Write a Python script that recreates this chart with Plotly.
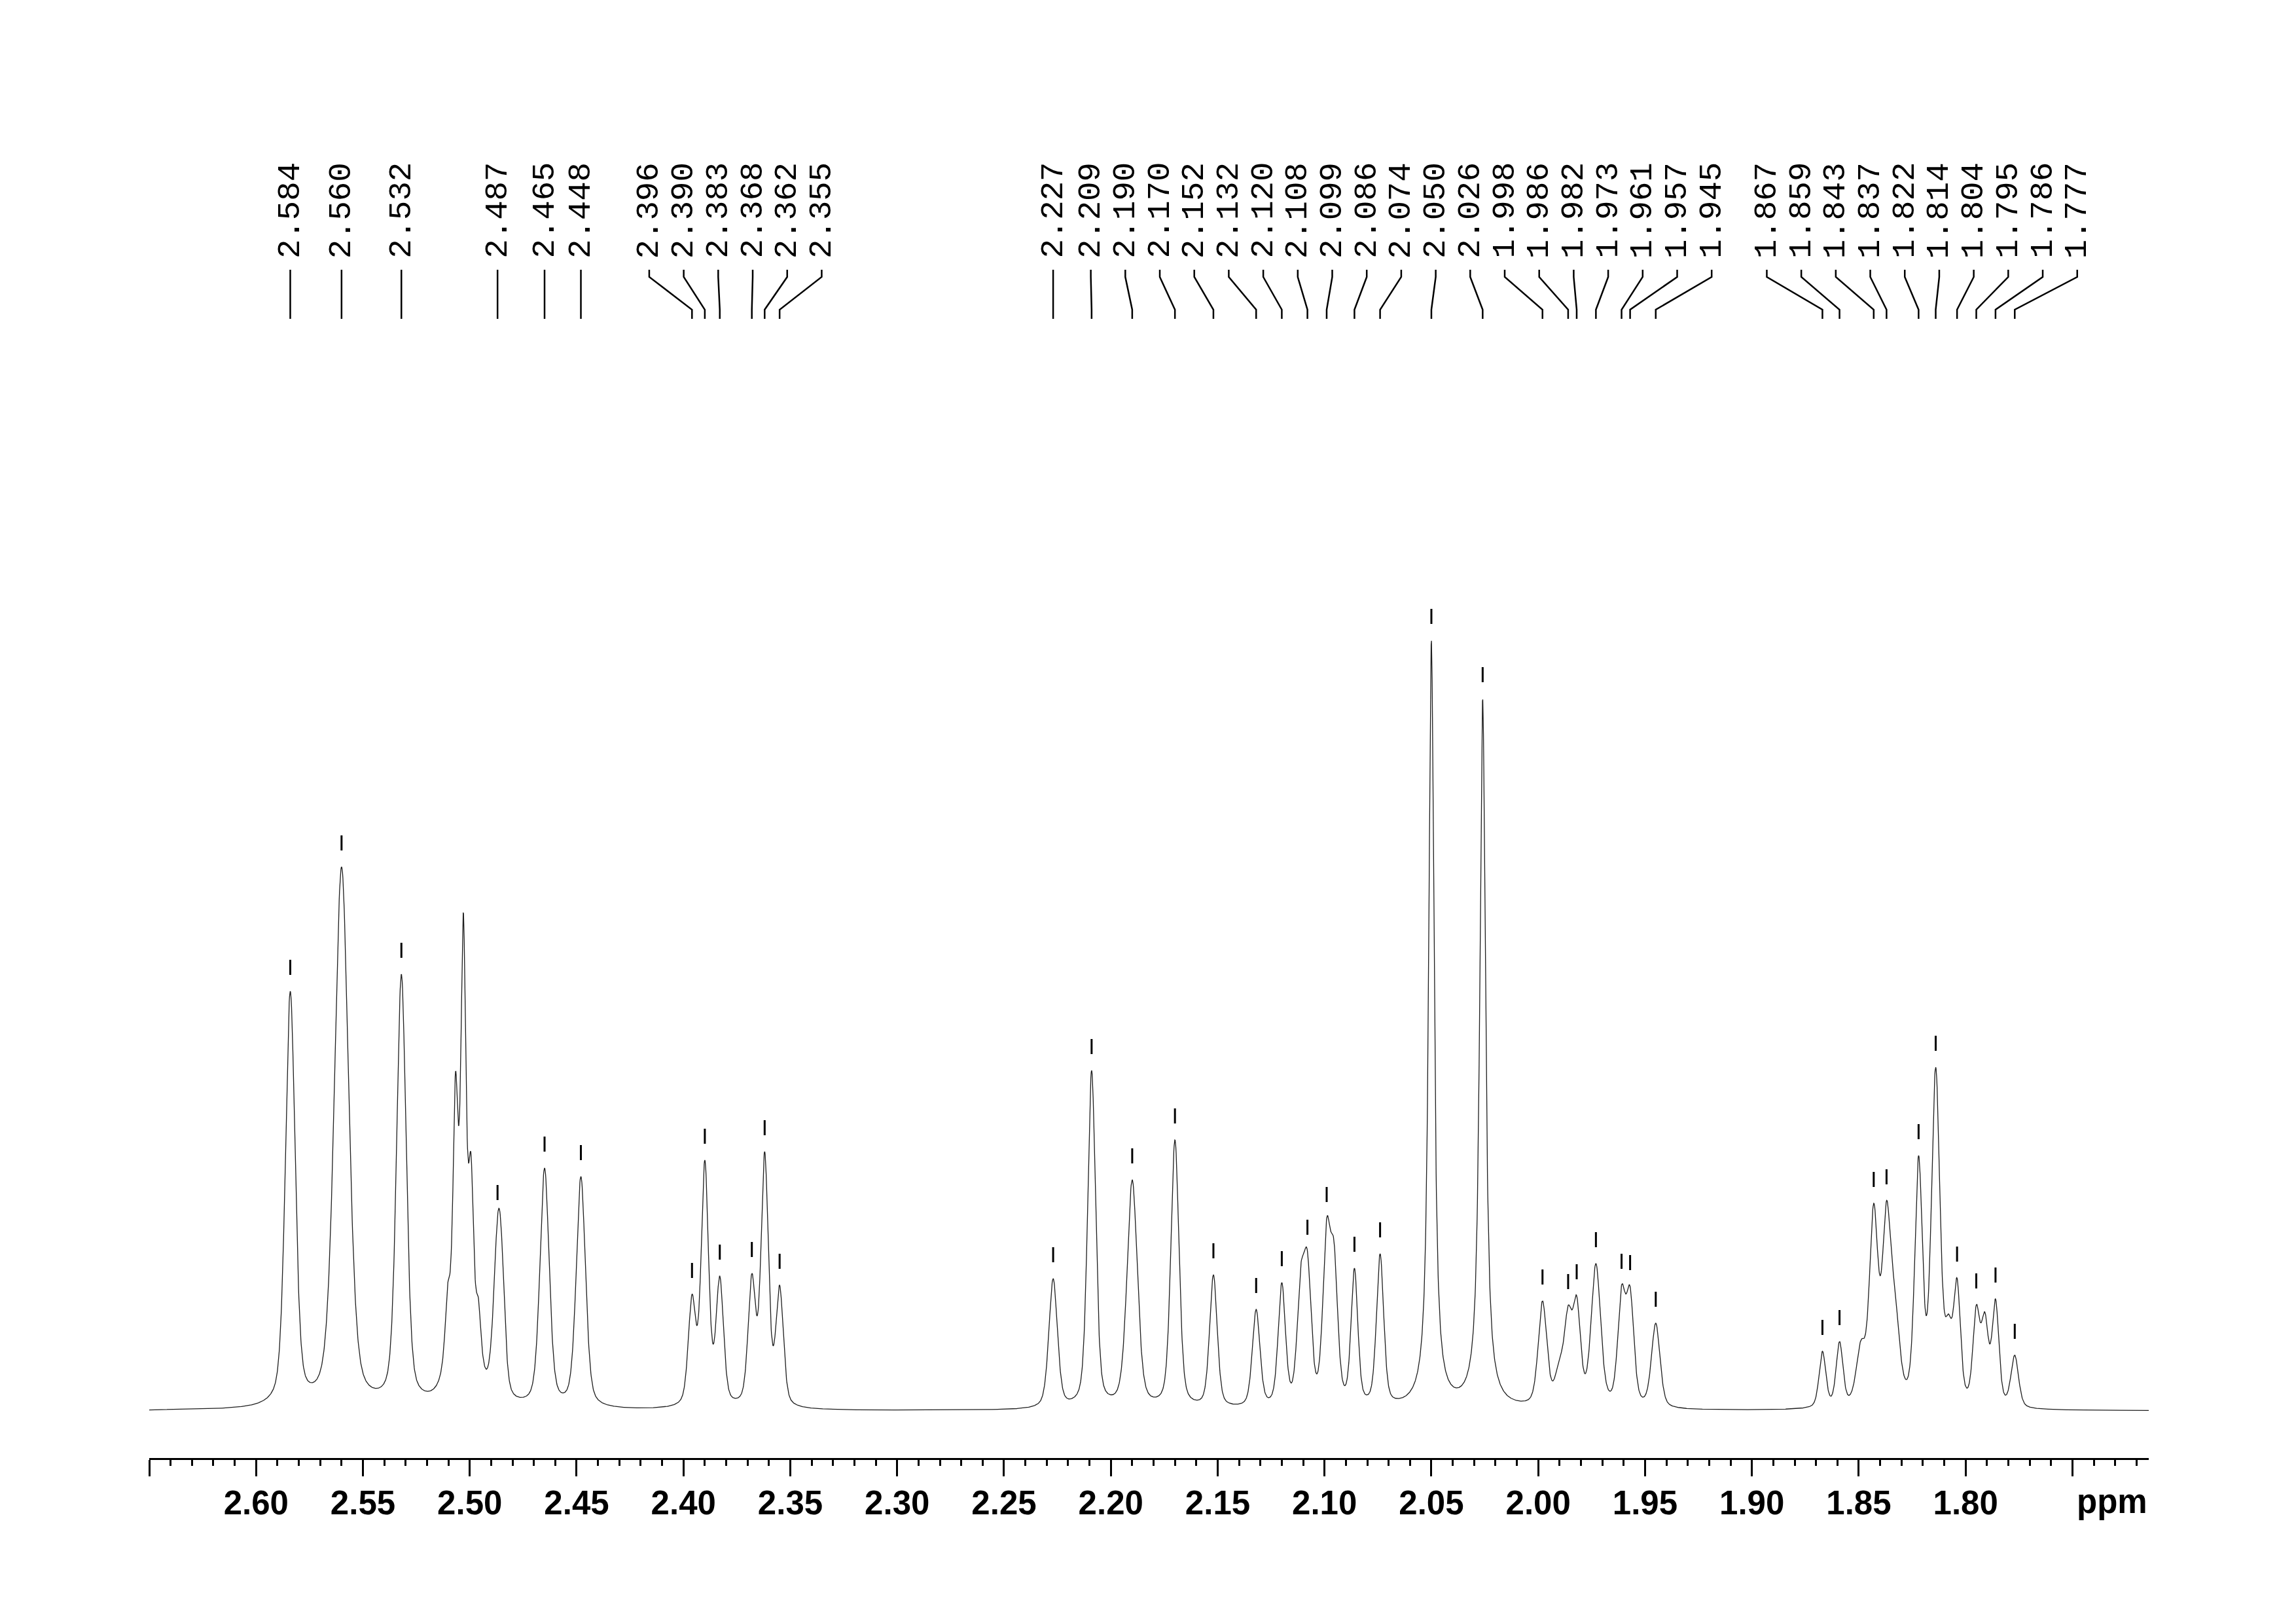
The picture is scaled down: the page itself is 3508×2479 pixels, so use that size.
import numpy as np
import plotly.graph_objects as go

# ---------------- data ----------------
# labelled peaks (ppm), apparent heights above baseline (px units) and line widths (FWHM, ppm)
peak_ppm = [2.584, 2.560, 2.532, 2.487, 2.465, 2.448,
            2.396, 2.390, 2.383, 2.368, 2.362, 2.355,
            2.227, 2.209, 2.190, 2.170, 2.152, 2.132, 2.120, 2.108, 2.099, 2.086, 2.074,
            2.050, 2.026,
            1.998, 1.986, 1.982, 1.973, 1.961, 1.957, 1.945,
            1.867, 1.859, 1.843, 1.837, 1.822, 1.814, 1.804, 1.795, 1.786, 1.777]
peak_height = [641, 831, 667, 297, 371, 358,
               178, 383, 206, 210, 396, 192,
               202, 520, 353, 414, 208, 155, 196, 244, 294, 218, 240,
               1177, 1088,
               168, 161, 176, 225, 192, 190, 134,
               91, 106, 317, 321, 390, 525, 203, 162, 171, 85]
peak_width = [0.0054, 0.0078, 0.0053, 0.0047, 0.0051, 0.0051,
              0.0041, 0.0041, 0.0041, 0.0041, 0.0041, 0.0041,
              0.0047, 0.0044, 0.0057, 0.0045, 0.0042, 0.0042, 0.0040, 0.0042, 0.0042, 0.0037, 0.0040,
              0.0030, 0.0032,
              0.0047, 0.0042, 0.0042, 0.0052, 0.0042, 0.0042, 0.0047,
              0.0037, 0.0037, 0.0047, 0.0047, 0.0042, 0.0047, 0.0037, 0.0037, 0.0037, 0.0042]

# unlabelled lines / shoulders (solvent quintet etc.)
extra_ppm = [2.5104, 2.5067, 2.5030, 2.4994, 2.4959, 2.4852, 2.1112, 2.0955,
             1.990, 1.849, 1.833, 1.808, 1.791]
extra_height = [192, 517, 762, 392, 171, 274, 220, 257,
                80, 108, 184, 148, 151]
extra_width = [0.0030, 0.0030, 0.0030, 0.0030, 0.0030, 0.0040, 0.0040, 0.0040,
               0.0050, 0.0050, 0.0050, 0.0040, 0.0040]

axis_ticks = [2.65, 2.60, 2.55, 2.50, 2.45, 2.40, 2.35, 2.30, 2.25, 2.20, 2.15,
              2.10, 2.05, 2.00, 1.95, 1.90, 1.85, 1.80, 1.75]
axis_tick_text = ["", "2.60", "2.55", "2.50", "2.45", "2.40", "2.35", "2.30", "2.25",
                  "2.20", "2.15", "2.10", "2.05", "2.00", "1.95", "1.90", "1.85",
                  "1.80", ""]
x_left, x_right = 2.65, 1.7143


# ---------------- line-shape model ----------------
def shape(x, c, w):
    eta = 0.9 if w <= 0.0033 else 0.4      # sharp singlets are Lorentzian, multiplet lines rounder
    d = (x - c) / (w / 2.0)
    lor = 1.0 / (1.0 + d * d)
    gau = np.exp(-np.log(2) * d * d)
    return eta * lor + (1 - eta) * gau


centers = np.array(peak_ppm + extra_ppm)
targets = np.array(peak_height + extra_height, dtype=float)
widths = np.array(peak_width + extra_width)
M = np.array([[shape(ci, cj, wj) for cj, wj in zip(centers, widths)] for ci in centers])
amp = targets.copy()
for _ in range(400):
    for i in range(len(amp)):
        rest = M[i] @ amp - M[i, i] * amp[i]
        amp[i] = max(0.0, (targets[i] - rest) / M[i, i])

grid = np.linspace(x_left, x_right, 6000)
spec = np.zeros_like(grid)
for a, c, w in zip(amp, centers, widths):
    spec += a * shape(grid, c, w)


def curve_at(x):
    return float(sum(a * shape(x, c, w) for a, c, w in zip(amp, centers, widths)))


# ---------------- label placement (de-overlapping) ----------------
PX_PER_PPM = 163.25 / 0.05
d = 52.7 / PX_PER_PPM
clusters = [[p] for p in peak_ppm]


def positions(cl):
    c = float(np.mean(cl))
    n = len(cl)
    return [c + ((n - 1) / 2.0 - k) * d for k in range(n)]


changed = True
while changed:
    changed = False
    for i in range(len(clusters) - 1):
        a = positions(clusters[i])
        b = positions(clusters[i + 1])
        if a[-1] - b[0] < d - 1e-9:
            clusters[i] = clusters[i] + clusters[i + 1]
            del clusters[i + 1]
            changed = True
            break
label_pos = []
for cl in clusters:
    label_pos += positions(cl)

# vertical layout in "pixel" data units (1 unit = 1 px, baseline at 0)
Y_LEAD_TOP, Y_LEAD_B1, Y_LEAD_B2, Y_LEAD_BOT = 1743, 1732, 1682, 1668
Y_TEXT_BOTTOM = 1758

lx, ly = [], []
for p, lp in zip(peak_ppm, label_pos):
    lx += [lp, lp, p, p, None]
    ly += [Y_LEAD_TOP, Y_LEAD_B1, Y_LEAD_B2, Y_LEAD_BOT, None]

mx, my = [], []
for p in peak_ppm:
    h = curve_at(p)
    mx += [p, p, None]
    my += [h + 25, h + 48, None]

fig = go.Figure()
fig.add_trace(go.Scatter(x=grid, y=spec, mode="lines",
                         line=dict(color="#1e1e1e", width=1.3), hoverinfo="skip"))
fig.add_trace(go.Scatter(x=mx, y=my, mode="lines",
                         line=dict(color="black", width=3), hoverinfo="skip"))
fig.add_trace(go.Scatter(x=lx, y=ly, mode="lines",
                         line=dict(color="black", width=2.5), hoverinfo="skip"))

annotations = []
for p, lp in zip(peak_ppm, label_pos):
    annotations.append(dict(x=lp, y=Y_TEXT_BOTTOM, xref="x", yref="y",
                            text=f"{p:.3f}", textangle=-90, showarrow=False,
                            xanchor="center", yanchor="bottom",
                            font=dict(family="Liberation Mono", size=49, color="black")))
annotations.append(dict(x=1.0, y=-0.033, xref="paper", yref="paper", text="ppm",
                        showarrow=False, xanchor="right", yanchor="middle",
                        font=dict(family="Liberation Sans", size=51, color="black",
                                  weight="bold")))

# the page body adds an 8 px margin, so the figure is 16 px smaller and shifted margins
fig.update_layout(
    width=3492, height=2463,
    margin=dict(l=220, r=217, t=192, b=244),
    paper_bgcolor="white", plot_bgcolor="white",
    showlegend=False,
    annotations=annotations,
    xaxis=dict(range=[x_left, x_right], autorange=False,
               showline=True, linecolor="black", linewidth=3,
               ticks="outside", ticklen=25, tickwidth=3, tickcolor="black",
               tickmode="array", tickvals=axis_ticks, ticktext=axis_tick_text,
               ticklabelstandoff=-3,
               tickfont=dict(family="Liberation Sans", size=51, color="black", weight="bold"),
               minor=dict(ticks="outside", ticklen=9, tickwidth=3, tickcolor="black",
                          tickmode="linear", tick0=0, dtick=0.01),
               showgrid=False, zeroline=False),
    yaxis=dict(range=[-72, 1955], visible=False, showgrid=False, zeroline=False),
)

fig.write_html("out.html")
